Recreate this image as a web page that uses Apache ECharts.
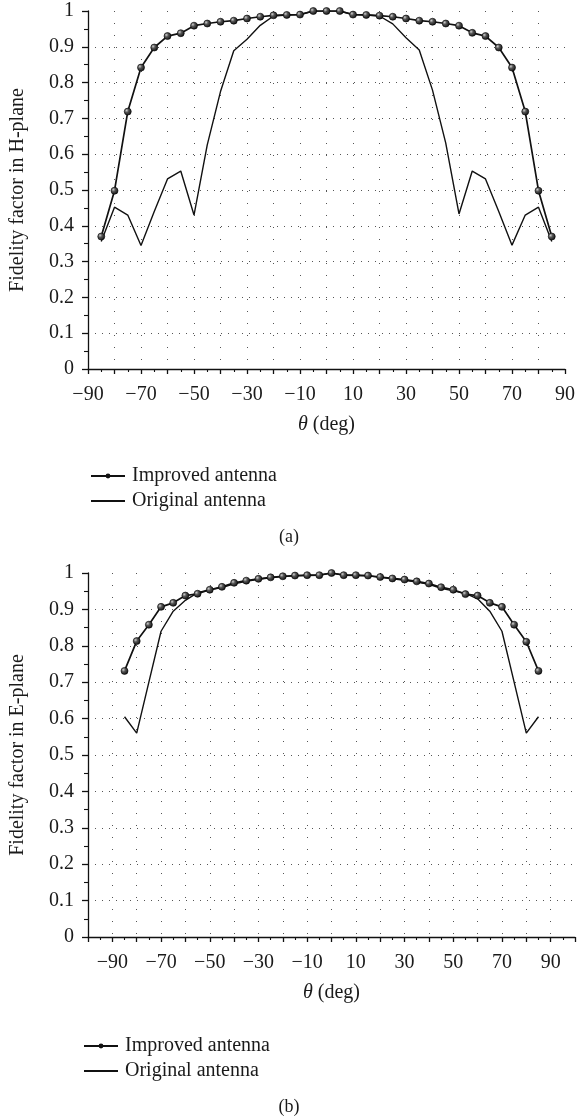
<!DOCTYPE html>
<html>
<head>
<meta charset="utf-8">
<script src="https://cdn.jsdelivr.net/npm/echarts@6/dist/echarts.min.js"></script>
<style>html,body{margin:0;padding:0;background:#fff;}#c{width:578px;height:1119px;}</style>
</head>
<body>
<div id="c"></div>
<script>
// ---- data ----
var angles = [-85,-80,-75,-70,-65,-60,-55,-50,-45,-40,-35,-30,-25,-20,-15,-10,-5,0,5,10,15,20,25,30,35,40,45,50,55,60,65,70,75,80,85];
var hImproved = [0.370,0.498,0.719,0.842,0.898,0.930,0.938,0.959,0.965,0.970,0.973,0.979,0.984,0.988,0.989,0.990,1.000,1.000,1.000,0.990,0.989,0.987,0.984,0.979,0.973,0.970,0.965,0.959,0.939,0.930,0.898,0.842,0.719,0.498,0.370];
var hOriginal = [0.356,0.452,0.430,0.345,0.440,0.531,0.553,0.430,0.626,0.775,0.889,0.921,0.960,0.986,0.989,0.990,1.000,1.000,1.000,0.990,0.989,0.986,0.964,0.925,0.891,0.779,0.631,0.433,0.553,0.531,0.440,0.346,0.430,0.452,0.356];
var eImproved = [0.731,0.813,0.858,0.907,0.918,0.938,0.943,0.954,0.962,0.973,0.979,0.984,0.988,0.991,0.993,0.994,0.994,1.000,0.994,0.994,0.993,0.989,0.985,0.982,0.977,0.971,0.961,0.954,0.942,0.938,0.918,0.907,0.858,0.811,0.731];
var eOriginal = [0.605,0.560,0.700,0.840,0.895,0.925,0.946,0.954,0.960,0.970,0.977,0.983,0.987,0.990,0.992,0.993,0.994,1.000,0.994,0.993,0.992,0.988,0.984,0.980,0.975,0.969,0.958,0.951,0.944,0.929,0.895,0.840,0.700,0.560,0.605];
var yTicks = [0,0.1,0.2,0.3,0.4,0.5,0.6,0.7,0.8,0.9,1];
var seriesNames = ['Improved antenna','Original antenna'];

function pairs(xs, ys){ return xs.map(function(x,i){ return [x, ys[i]]; }); }

var FONT = '"Liberation Serif", "DejaVu Serif", serif';
var FS = 20;
var TXT = '#1a1a1a';
var sphere = {type:'radial', x:0.35, y:0.35, r:0.75,
  colorStops:[{offset:0,color:'#cfcfcf'},{offset:0.35,color:'#555'},{offset:1,color:'#050505'}]};

function xAxisCfg(gi, min, max){
  return {
    type:'value', gridIndex:gi, min:min, max:max, interval:10,
    name:'{i|θ} (deg)', nameLocation:'middle', nameGap:46,
    nameTextStyle:{fontFamily:FONT, fontSize:FS, color:TXT, rich:{i:{fontStyle:'italic', fontFamily:FONT, fontSize:FS, color:TXT}}},
    axisLine:{onZero:false, lineStyle:{color:'#111', width:1.3}},
    axisTick:{show:true, length:5, lineStyle:{color:'#111', width:1.3}},
    minorTick:{show:true, splitNumber:2, length:3, lineStyle:{color:'#111', width:1.1}},
    axisLabel:{fontFamily:FONT, fontSize:FS, color:TXT, margin:16,
      formatter:function(v){ var k=Math.round(v/10); if (Math.abs(k)%2!==1) return ''; return String(v).replace('-', '\u2212'); }},
    splitLine:{show:true, showMinLine:false, showMaxLine:false, lineStyle:{color:'#555', width:1, type:[1,11]}}
  };
}
function yAxisCfg(gi, name){
  return {
    type:'value', gridIndex:gi, min:0, max:1, interval:0.1,
    name:name, nameLocation:'middle', nameGap:60,
    nameTextStyle:{fontFamily:FONT, fontSize:FS, color:TXT},
    axisLine:{show:true, onZero:false, lineStyle:{color:'#111', width:1.3}},
    axisTick:{show:true, length:6, lineStyle:{color:'#111', width:1.3}},
    minorTick:{show:true, splitNumber:2, length:4, lineStyle:{color:'#111', width:1.1}},
    axisLabel:{fontFamily:FONT, fontSize:FS, color:TXT, margin:14,
      formatter:function(v){ var t = yTicks.filter(function(a){return Math.abs(a-v)<1e-6;}); return t.length? String(+t[0].toFixed(1)) : ''; }},
    splitLine:{show:true, showMinLine:false, showMaxLine:false, lineStyle:{color:'#555', width:1, type:[1,6]}}
  };
}
function improved(gi, data){
  return {name:seriesNames[0], type:'line', xAxisIndex:gi, yAxisIndex:gi, data:data,
    symbol:'circle', symbolSize:7, showSymbol:true, z:3,
    lineStyle:{color:'#111', width:1.7},
    itemStyle:{color:sphere, borderColor:'#000', borderWidth:0.6}};
}
function original(gi, data){
  return {name:seriesNames[1], type:'line', xAxisIndex:gi, yAxisIndex:gi, data:data,
    symbol:'none', z:2, lineStyle:{color:'#111', width:1.4}, itemStyle:{color:'#111'}};
}
function legendCfg(top, left){
  return {orient:'vertical', top:top, left:left, itemWidth:34, itemHeight:6, itemGap:5,
    selectedMode:false,
    textStyle:{fontFamily:FONT, fontSize:FS, color:TXT, padding:[0,0,0,2]},
    data:[{name:seriesNames[0], itemStyle:{color:'#111', borderWidth:0}},
          {name:seriesNames[1], itemStyle:{opacity:0}}]};
}

var chart = echarts.init(document.getElementById('c'), null, {renderer:'canvas'});
chart.setOption({
  animation:false,
  backgroundColor:'#fff',
  title:[
    {text:'(a)', left:'center', top:523, textStyle:{fontFamily:FONT, fontSize:18, fontWeight:'normal', color:TXT}},
    {text:'(b)', left:'center', top:1093, textStyle:{fontFamily:FONT, fontSize:18, fontWeight:'normal', color:TXT}}
  ],
  legend:[legendCfg(461, 85), legendCfg(1031, 78)],
  grid:[
    {left:81, top:11, width:485, height:358, containLabel:false},
    {left:83, top:573, width:492, height:364, containLabel:false}
  ],
  xAxis:[xAxisCfg(0,-90,90), xAxisCfg(1,-100,100)],
  yAxis:[yAxisCfg(0,'Fidelity factor in H-plane'), yAxisCfg(1,'Fidelity factor in E-plane')],
  series:[
    improved(0, pairs(angles,hImproved)), original(0, pairs(angles,hOriginal)),
    improved(1, pairs(angles,eImproved)), original(1, pairs(angles,eOriginal))
  ]
});
</script>
</body>
</html>
